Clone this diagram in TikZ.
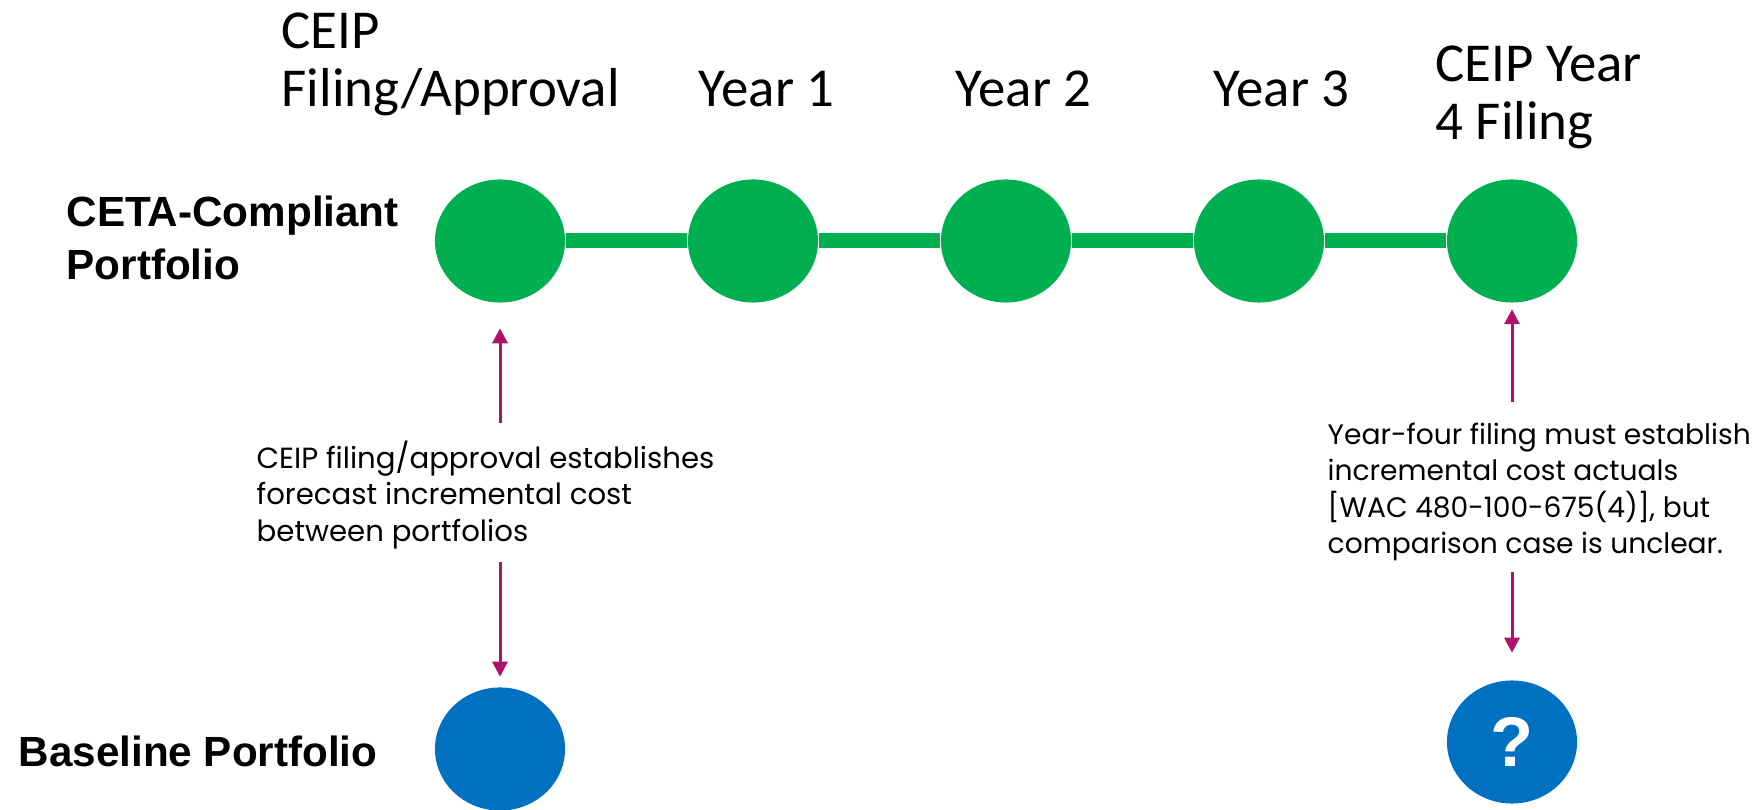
\documentclass[tikz,border=0pt]{standalone}
\usepackage{fontspec}
\usetikzlibrary{shapes.geometric,arrows.meta}
\newfontfamily\headfont{Carlito}
\newfontfamily\notefont{Poppins}
\newfontfamily\labelfont{Liberation Sans}
\definecolor{ceipgreen}{RGB}{0,176,80}
\definecolor{ceipblue}{RGB}{0,112,192}
\definecolor{ceipmagenta}{RGB}{176,18,106}
\tikzset{
  gdot/.style={ellipse, fill=ceipgreen, minimum width=1.3cm, minimum height=1.23cm, inner sep=0},
  bdot/.style={ellipse, fill=ceipblue, minimum width=1.3cm, minimum height=1.23cm, inner sep=0},
  link/.style={ceipgreen, line width=0.15cm},
  pointer/.style={-{Triangle[length=0.15cm,width=0.15cm]}, ceipmagenta, line width=0.03cm},
  head/.style={font=\headfont\fontsize{15.6}{16.5}\selectfont, inner sep=0, align=left},
  rowlabel/.style={font=\labelfont\bfseries\fontsize{12}{15}\selectfont, inner sep=0, align=left},
  note/.style={font=\notefont\fontsize{8.3}{10.4}\selectfont, inner sep=0, align=left}
}
\begin{document}
\begin{tikzpicture}[x=0.01cm, y=-0.01cm]
        \useasboundingbox (0,0) rectangle (1759,810);
        \clip (0,0) rectangle (1759,810);

        % column heads
        \node[head, anchor=north west] (t0) at (281,12) {CEIP\\Filing/Approval};
        \node[head, anchor=base west] (t1) at (698,107) {Year 1};
        \node[head, anchor=base west] (t2) at (955,107) {Year 2};
        \node[head, anchor=base west] (t3) at (1213,107) {Year 3};
        \node[head, anchor=north west] (t4) at (1435,45) {CEIP Year\\4 Filing};

        % row labels
        \node[rowlabel, anchor=north west] (l0) at (66,195) {CETA-Compliant\\Portfolio};
        \node[rowlabel, anchor=base west] (l1) at (18,767) {Baseline Portfolio};

        % timeline
        \node[gdot] (g0) at (500,241) {};
        \node[gdot] (g1) at (753,241) {};
        \node[gdot] (g2) at (1006,241) {};
        \node[gdot] (g3) at (1259,241) {};
        \node[gdot] (g4) at (1512,241) {};
        \draw[link] (g0.east) -- (g1.west);
        \draw[link] (g1.east) -- (g2.west);
        \draw[link] (g2.east) -- (g3.west);
        \draw[link] (g3.east) -- (g4.west);

        \node[bdot] (b0) at (500,749) {};
        \node[bdot, text=white, font=\labelfont\bfseries\fontsize{20}{24}\selectfont] (b4) at (1512,742) {?};

        % notes
        \node[note, anchor=north west] (n0) at (256,440)
            {CEIP filing/approval establishes\\forecast incremental cost\\between portfolios};
        \node[note, anchor=north west, font=\notefont\fontsize{8.0}{10.4}\selectfont] (n4) at (1327,422)
            {Year-four filing must establish\\incremental cost actuals\\{[}WAC 480-100-675(4){]}, but\\comparison case is unclear.};

        \draw[pointer, shorten <=0.17cm, shorten >=0.25cm] (g0.south |- n0.north) -- (g0.south);
        \draw[pointer, shorten <=0.12cm, shorten >=0.10cm] (b0.north |- n0.south) -- (b0.north);
        \draw[pointer, shorten <=0.20cm, shorten >=0.06cm] (g4.south |- n4.north) -- (g4.south);
        \draw[pointer, shorten <=0.10cm, shorten >=0.27cm] (b4.north |- n4.south) -- (b4.north);
    \end{tikzpicture}
\end{document}
